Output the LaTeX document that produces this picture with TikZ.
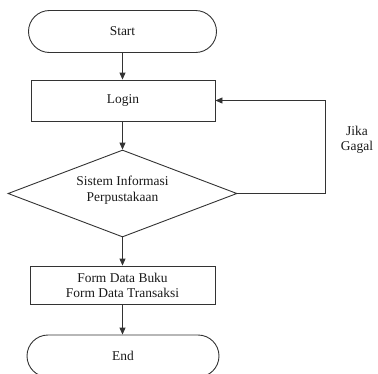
\documentclass[tikz,border=0pt]{standalone}
\usepackage{fontspec}
\setmainfont{Liberation Serif}
\usetikzlibrary{shapes.geometric,arrows.meta}
\begin{document}
\begin{tikzpicture}[x=1bp,y=-1bp,
  every node/.style={font=\fontsize{13.5}{15}\selectfont, text=black!90},
  line/.style={draw=black!80, line width=0.9bp},
  term/.style={line, rectangle, rounded corners=21bp, minimum width=#1, minimum height=42bp, inner sep=0},
  proc/.style={line, rectangle, align=center, inner sep=0},
  dec/.style={line, diamond, inner sep=0, minimum width=229bp, minimum height=87bp},
  conn/.style={line, -{Triangle[length=7bp,width=6bp]}}
]
\useasboundingbox (0,0) rectangle (378,374);
\node[term=188bp] (start) at (122.5,31.5) {Start};
\node[proc, minimum width=184bp, minimum height=41bp] (login) at (123,100.5) {Login};
\node[dec] (sis) at (122.5,193.5) {};
\node[align=center] (sistxt) at ([yshift=3.5bp]sis.center) {Sistem Informasi\\[1.5bp]Perpustakaan};
\node[proc, minimum width=185bp, minimum height=38bp] (form) at (122.5,285) {Form Data Buku\\Form Data Transaksi};
\node[term=192bp] (end) at (123,356) {End};
\node[align=center] (gagal) at (357,140) {Jika\\Gagal};
\coordinate (c1) at (325,193.5);
\coordinate (c2) at (325,100.5);
\draw[conn] (start.south) -- (start.south |- login.north);
\draw[conn] (login.south -| sis.north) -- (sis.north);
\draw[conn] (sis.south) -- (sis.south |- form.north);
\draw[conn] (form.south) -- (form.south |- end.north);
\draw[conn] (sis.east) -- (c1) -- (c2) -- (login.east);
\end{tikzpicture}
\end{document}
